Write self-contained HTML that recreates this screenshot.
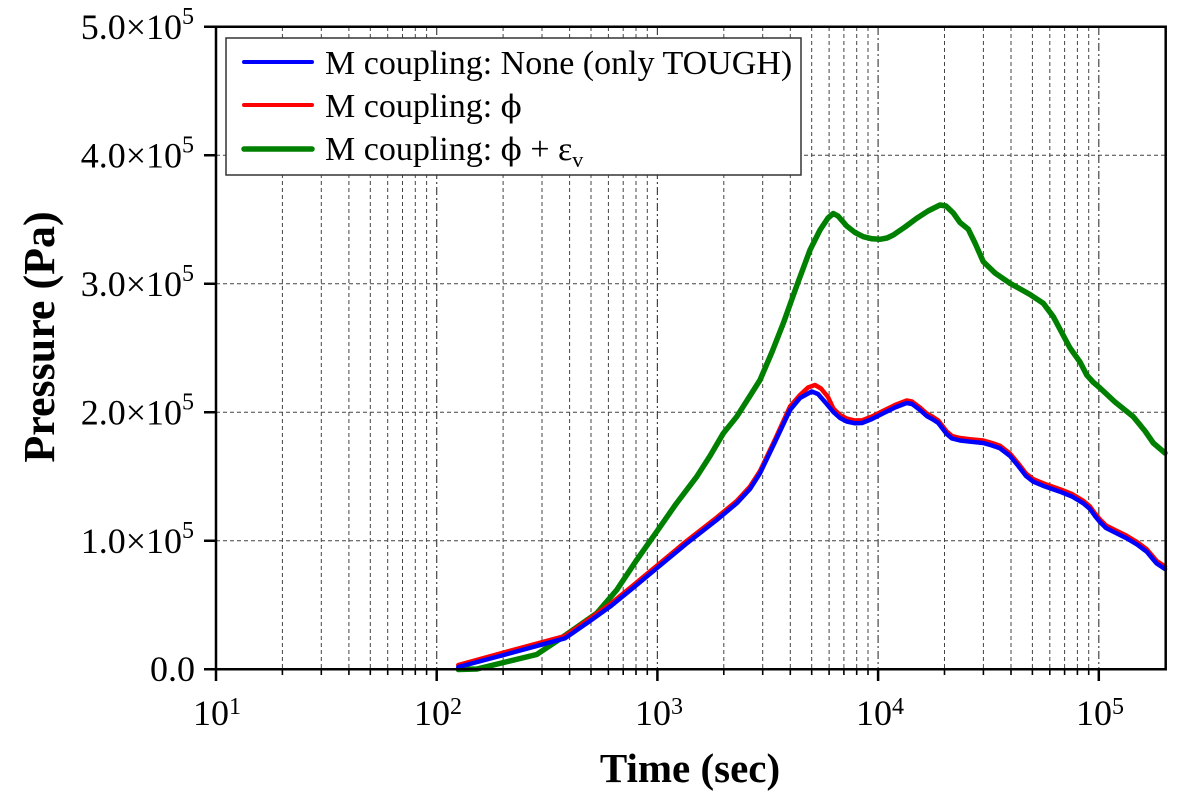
<!DOCTYPE html>
<html><head><meta charset="utf-8"><style>
html,body{margin:0;padding:0;background:#fff;}
svg{display:block;}
text{font-family:"Liberation Serif","Times New Roman",serif;fill:#000;}
.phi{font-family:"DejaVu Serif","Liberation Serif",serif;font-size:31px;}
</style></head><body>
<svg width="1181" height="804" viewBox="0 0 1181 804" xmlns="http://www.w3.org/2000/svg">
<rect width="1181" height="804" fill="#fff"/>
<!-- minor vertical grid -->
<g stroke="#444" stroke-width="1" stroke-dasharray="4 3" fill="none">
<path d="M282.4 27V669M321.3 27V669M348.9 27V669M370.3 27V669M387.7 27V669M402.5 27V669M415.3 27V669M426.6 27V669
M503.1 27V669M542 27V669M569.6 27V669M591 27V669M608.4 27V669M623.2 27V669M636 27V669M647.3 27V669
M723.8 27V669M762.7 27V669M790.3 27V669M811.7 27V669M829.1 27V669M843.9 27V669M856.7 27V669M868 27V669
M944.5 27V669M983.4 27V669M1011 27V669M1032.4 27V669M1049.8 27V669M1064.6 27V669M1077.4 27V669M1088.7 27V669"/>
<path d="M216 540.8H1165M216 412.3H1165M216 283.8H1165M216 155.3H1165"/>
</g>
<g stroke="#444" stroke-width="1.2" stroke-dasharray="8 3 2 3" fill="none">
<path d="M436.7 27V669M657.4 27V669M878.1 27V669M1098.8 27V669"/>
</g>
<!-- curves -->
<g fill="none" stroke-linejoin="round" stroke-linecap="round">
<polyline stroke="#008000" stroke-width="5.5" points="458.3,669.5 477,669 536.7,654.5 563.3,636.7 596.7,613.3 616.7,590 636,561 656.7,531.7 676,504 696.7,476.7 710,456 723.3,433.3 736.7,416.7 748,399 760,380 772,352 783.3,323.3 797,285 810,250 820,230 828,218 833.3,213.5 838,216 846.7,226 855,232.5 863.3,236.7 872,238.8 880,239.3 887,238 893.3,235 905,227 916.7,218.3 928,211 940,205 946,206 953.3,213 960,222.5 968.3,229.3 975,243 983.3,261.7 995,273 1010,283.3 1030,294.5 1043.3,303.3 1053.3,316.7 1062,333 1070,348 1080,362 1086.7,375 1093,382 1100,388 1115,402 1133.3,416.7 1145,431 1153.3,443 1165,453"/>
<polyline stroke="#ff0000" stroke-width="4.5" points="458.3,665 500,653.5 565,636 590,618.5 610,604.2 633,585.5 656.7,565.8 686,541.5 716.7,517.5 736.7,501 750,486.5 760,471 775,439.5 790,406.5 800,395 808,387.5 815,385 821,388.5 828,397 833.3,408.5 840,415 846.7,418.5 855,420.5 862,420.3 872,416.5 883.3,410.8 895,405 906.7,400.5 912,401.5 920,407.5 926.7,413.5 933,417 938.3,420.5 946.7,431.5 952,436 960,438 970,439.2 983.3,440.5 992,443 1000,445.8 1010,453.5 1018.3,463.5 1026,473.5 1033.3,479.2 1045,484 1060,489.2 1072,494 1083.3,500.8 1090,506.5 1095,513.5 1100,519.5 1106,525.5 1115,530 1126.7,535.8 1137,542 1146.7,549.2 1152,555.5 1156.7,561 1165,566.5"/>
<polyline stroke="#0000ff" stroke-width="4.5" points="458.3,667 500,656 565,638.3 590,621 610,606.7 633,588 656.7,568.3 686,544 716.7,520 736.7,503.3 750,489 760,473.3 775,442 790,410 800,398 811.7,391.5 818,394 825,402 833.3,412 840,418 846.7,421.5 855,423.3 862,423 872,419 883.3,413.3 895,407.5 906.7,403 912,404 920,410 926.7,416 933,419.5 938.3,423 946.7,434 952,438.5 960,440.5 970,441.7 983.3,443 992,445.5 1000,448.3 1010,456 1018.3,466 1026,476 1033.3,481.7 1045,486.5 1060,491.7 1072,496.5 1083.3,503.3 1090,509 1095,516 1100,522 1106,528 1115,532.5 1126.7,538.3 1137,544.5 1146.7,551.7 1152,558 1156.7,563.5 1165,569"/>
</g>
<!-- legend -->
<rect x="226" y="38" width="575" height="137" fill="#fff" stroke="#333" stroke-width="1.5"/>
<g stroke-linecap="round">
<line x1="244" y1="62" x2="312" y2="62" stroke="#0000ff" stroke-width="4"/>
<line x1="244" y1="105" x2="312" y2="105" stroke="#ff0000" stroke-width="4"/>
<line x1="244" y1="149" x2="312" y2="149" stroke="#008000" stroke-width="5.5"/>
</g>
<g font-size="34">
<text x="325" y="74">M coupling: None (only TOUGH)</text>
<text x="325" y="117">M coupling: <tspan class="phi">ϕ</tspan></text>
<text x="325" y="160">M coupling: <tspan class="phi">ϕ</tspan> + ε<tspan font-size="22" dy="7">v</tspan></text>
</g>
<!-- frame -->
<g stroke="#000" stroke-width="2.5" fill="none">
<path d="M204 26.7H1165.7V669.3H216V26.7"/>
<path d="M204 155.3H216M204 283.8H216M204 412.3H216M204 540.8H216M204 669.3H216"/>
<path d="M216 669.3V681M436.7 669.3V681M657.4 669.3V681M878.1 669.3V681M1098.8 669.3V681"/>
</g>
<g stroke="#000" stroke-width="1.6" fill="none">
<path d="M282.4 669V675M321.3 669V675M348.9 669V675M370.3 669V675M387.7 669V675M402.5 669V675M415.3 669V675M426.6 669V675
M503.1 669V675M542 669V675M569.6 669V675M591 669V675M608.4 669V675M623.2 669V675M636 669V675M647.3 669V675
M723.8 669V675M762.7 669V675M790.3 669V675M811.7 669V675M829.1 669V675M843.9 669V675M856.7 669V675M868 669V675
M944.5 669V675M983.4 669V675M1011 669V675M1032.4 669V675M1049.8 669V675M1064.6 669V675M1077.4 669V675M1088.7 669V675"/>
</g>
<!-- y tick labels -->
<g font-size="36" text-anchor="end">
<text x="194" y="39">5.0×10<tspan font-size="24" dy="-15">5</tspan></text>
<text x="194" y="167.5">4.0×10<tspan font-size="24" dy="-15">5</tspan></text>
<text x="194" y="296">3.0×10<tspan font-size="24" dy="-15">5</tspan></text>
<text x="194" y="424.5">2.0×10<tspan font-size="24" dy="-15">5</tspan></text>
<text x="194" y="553">1.0×10<tspan font-size="24" dy="-15">5</tspan></text>
<text x="195" y="681">0.0</text>
</g>
<!-- x tick labels -->
<g font-size="36" text-anchor="middle">
<text x="217" y="725">10<tspan font-size="24" dy="-11">1</tspan></text>
<text x="438" y="725">10<tspan font-size="24" dy="-11">2</tspan></text>
<text x="659" y="725">10<tspan font-size="24" dy="-11">3</tspan></text>
<text x="880" y="725">10<tspan font-size="24" dy="-11">4</tspan></text>
<text x="1100" y="725">10<tspan font-size="24" dy="-11">5</tspan></text>
</g>
<!-- axis titles -->
<text x="690" y="782" font-size="41" font-weight="bold" text-anchor="middle">Time (sec)</text>
<text transform="translate(54,337) rotate(-90)" font-size="44" font-weight="bold" text-anchor="middle">Pressure (Pa)</text>
</svg>
</body></html>
